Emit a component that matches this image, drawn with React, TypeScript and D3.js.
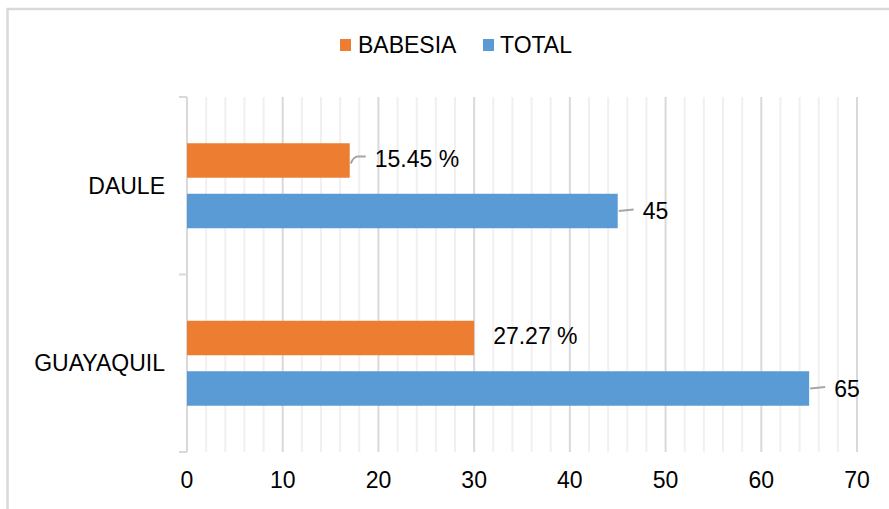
import React from "react";
import * as d3 from "d3";

const categories = ["DAULE", "GUAYAQUIL"];
const seriesNames = ["BABESIA", "TOTAL"];
const babesiaValues = [17, 30];
const totalValues = [45, 65];
const babesiaLabels = ["15.45 %", "27.27 %"];
const totalLabels = ["45", "65"];
const xTicks = [0, 10, 20, 30, 40, 50, 60, 70];
const colors = ["#ED7D31", "#5B9BD5"];

const W = 889;
const H = 509;
const FONT = "Liberation Sans, Arial, sans-serif";

export default function App() {
  const x = d3.scaleLinear().domain([0, 70]).range([187, 857]);
  const y = d3.scaleBand<string>().domain(categories).range([97, 452]).padding(0);
  const minor = d3.range(0, 71, 2);
  const series = [
    { name: seriesNames[0], values: babesiaValues, labels: babesiaLabels, color: colors[0] },
    { name: seriesNames[1], values: totalValues, labels: totalLabels, color: colors[1] },
  ];
  const barH = 34.5;
  const gap = 16;
  const groupH = barH * 2 + gap;

  return (
    <div style={{ position: "fixed", left: 0, top: 0 }}>
      <svg width={W} height={H} style={{ display: "block", background: "#fff" }}>
        <rect x={7.5} y={9} width={W + 10} height={H + 10} fill="#fff" stroke="#d9d9d9" strokeWidth={2.5} />
        {/* legend */}
        <g fontFamily={FONT} fontSize={23} fill="#000">
          <rect x={340} y={39} width={11} height={12} fill={colors[0]} />
          <text x={358} y={53}>{seriesNames[0]}</text>
          <rect x={483} y={39} width={11} height={12} fill={colors[1]} />
          <text x={500} y={53}>{seriesNames[1]}</text>
        </g>
        {/* gridlines */}
        {minor.map((v) => (
          <line key={"m" + v} x1={x(v)} x2={x(v)} y1={97} y2={452}
            stroke={v % 10 === 0 ? "#d9d9d9" : "#f0f0f0"} strokeWidth={v % 10 === 0 ? 2 : 2} />
        ))}
        {/* y axis */}
        <line x1={x(0)} x2={x(0)} y1={97} y2={452} stroke="#d9d9d9" strokeWidth={2} />
        {[97, ...categories.map((c) => (y(c) as number) + y.bandwidth())].map((t, i) => (
          <line key={"t" + i} x1={179} x2={x(0)} y1={t} y2={t} stroke="#d9d9d9" strokeWidth={2} />
        ))}
        {/* category labels */}
        {categories.map((c) => (
          <text key={c} x={165} y={(y(c) as number) + y.bandwidth() / 2 + 8} textAnchor="end"
            fontFamily={FONT} fontSize={23} fill="#000">{c}</text>
        ))}
        {/* bars */}
        {categories.map((c, ci) => {
          const top = (y(c) as number) + y.bandwidth() / 2 - groupH / 2;
          return series.map((s, si) => {
            const by = top + si * (barH + gap);
            const bx = x(s.values[ci]);
            const cy = by + barH / 2;
            const withLeader = !(si === 0 && ci === 1);
            const lx = withLeader ? bx + 25 : bx + 19;
            return (
              <g key={c + s.name}>
                <rect x={x(0)} y={by} width={bx - x(0)} height={barH} fill={s.color} />
                {withLeader && (
                  <path d={si === 0
                    ? `M${bx + 1},${cy + 3} Q${bx + 4},${cy - 4} ${bx + 8},${cy - 4} L${bx + 16},${cy - 4}`
                    : `M${bx + 1},${cy} L${bx + 16},${cy - 1.5}`}
                    fill="none" stroke="#a6a6a6" strokeWidth={2} />
                )}
                <text x={lx} y={cy + (si === 0 ? 0 : 2) + 6} fontFamily={FONT} fontSize={23} fill="#000">
                  {s.labels[ci]}
                </text>
              </g>
            );
          });
        })}
        {/* x axis labels */}
        {xTicks.map((t) => (
          <text key={t} x={x(t)} y={488} textAnchor="middle" fontFamily={FONT} fontSize={23} fill="#000">{t}</text>
        ))}
      </svg>
    </div>
  );
}
